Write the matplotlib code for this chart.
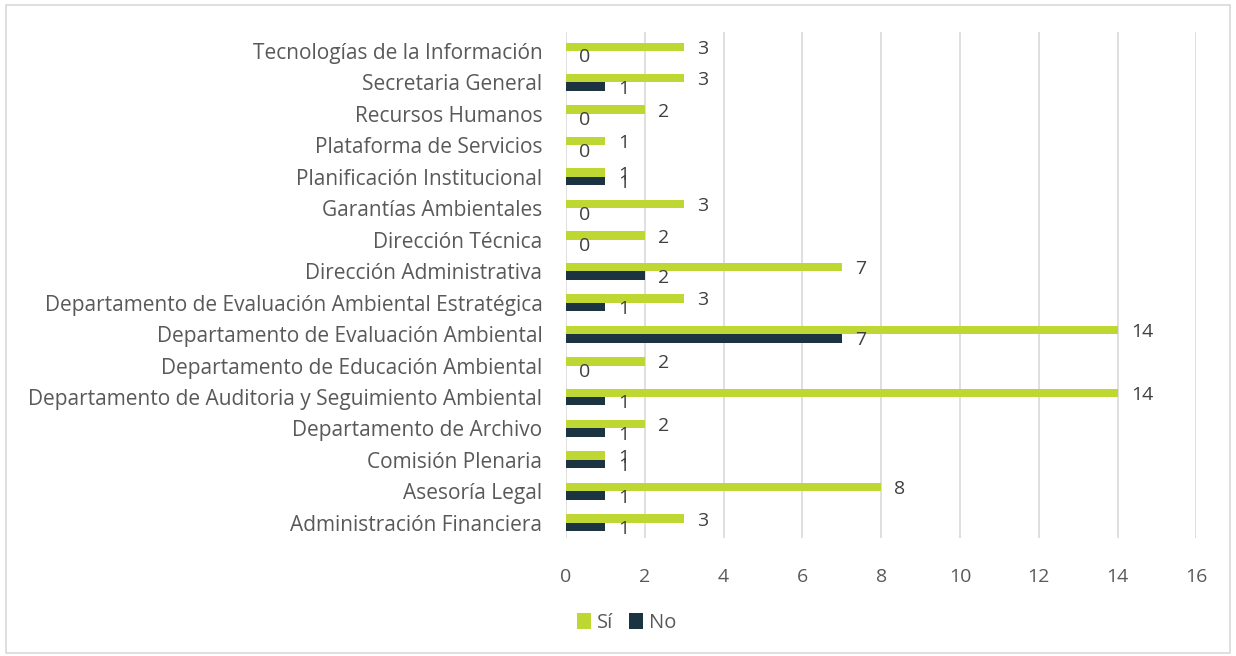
import matplotlib.pyplot as plt
from matplotlib.patches import Rectangle
import numpy as np

# categories listed bottom -> top, as in the chart
areas = [
    "Administración Financiera",
    "Asesoría Legal",
    "Comisión Plenaria",
    "Departamento de Archivo",
    "Departamento de Auditoria y Seguimiento Ambiental",
    "Departamento de Educación Ambiental",
    "Departamento de Evaluación Ambiental",
    "Departamento de Evaluación Ambiental Estratégica",
    "Dirección Administrativa",
    "Dirección Técnica",
    "Garantías Ambientales",
    "Planificación Institucional",
    "Plataforma de Servicios",
    "Recursos Humanos",
    "Secretaria General",
    "Tecnologías de la Información",
]
si = [3, 8, 1, 2, 14, 2, 14, 3, 7, 2, 3, 1, 1, 2, 3, 3]
no = [1, 1, 1, 1, 1, 0, 7, 1, 2, 0, 0, 1, 0, 0, 1, 0]
x_ticks = [0, 2, 4, 6, 8, 10, 12, 14, 16]

color_si = "#BED732"
color_no = "#1C3342"
plt.rcParams["font.family"] = ["Open Sans", "DejaVu Sans"]

fig = plt.figure(figsize=(12.36, 6.56), dpi=100)
ax = fig.add_axes([0.458, 0.18, 0.51, 0.771])

y = np.arange(len(areas))
h = 0.27
bars_si = ax.barh(y + h / 2, si, height=h, color=color_si, label="Sí", zorder=3)
bars_no = ax.barh(y - h / 2, no, height=h, color=color_no, label="No", zorder=3)

# data labels just past the bar end
for bars in (bars_si, bars_no):
    for b in bars:
        ax.annotate(str(int(b.get_width())), (b.get_width(), b.get_y() + b.get_height() / 2),
                    xytext=(9.5, -1.5), textcoords="offset points", ha="left", va="center",
                    fontsize=14, color="#404040")

ax.set_xlim(0, 16)
ax.set_ylim(-0.48, 15.6)
ax.set_xticks(x_ticks)
ax.set_yticks(y)
ax.set_yticklabels(areas, fontsize=15)
ax.tick_params(axis="both", length=0, labelsize=14, colors="#595959")
ax.tick_params(axis="y", pad=17, labelsize=15)
ax.tick_params(axis="x", pad=22)
ax.grid(axis="x", color="#D9D9D9", linewidth=1.2, zorder=0)
for s in ax.spines.values():
    s.set_visible(False)

leg = fig.legend(loc="center", bbox_to_anchor=(0.507, 0.05), ncol=2, frameon=False,
                 fontsize=14.5, handlelength=0.7, handleheight=0.8, handletextpad=0.3,
                 columnspacing=0.8)
for t in leg.get_texts():
    t.set_color("#595959")

# light frame around the whole chart
fig.patches.append(Rectangle((0.005, 0.005), 0.99, 0.988, transform=fig.transFigure,
                             fill=False, edgecolor="#D9D9D9", linewidth=1.2))

fig.savefig("out.png", dpi=100)
